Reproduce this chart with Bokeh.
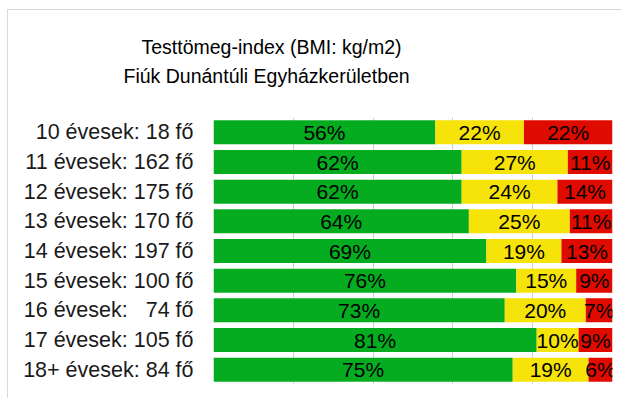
from bokeh.plotting import figure
from bokeh.models import ColumnDataSource, FactorRange, Title
from bokeh.embed import file_html
from bokeh.resources import INLINE

# ---- data ----
categories = ["10 évesek: 18 fő", "11 évesek: 162 fő", "12 évesek: 175 fő",
              "13 évesek: 170 fő", "14 évesek: 197 fő", "15 évesek: 100 fő",
              "16 évesek: \u00a0\u00a074 fő", "17 évesek: 105 fő", "18+ évesek: 84 fő"]
green = [55.6, 62.2, 62.2, 64.0, 68.4, 75.9, 73.0, 81.0, 75.0]
yellow = [22.2, 26.6, 24.0, 25.3, 18.8, 15.0, 20.3, 10.5, 19.0]
red = [22.2, 11.2, 13.8, 10.7, 12.8, 9.1, 6.7, 8.5, 6.0]
green_labels = ["56%", "62%", "62%", "64%", "69%", "76%", "73%", "81%", "75%"]
yellow_labels = ["22%", "27%", "24%", "25%", "19%", "15%", "20%", "10%", "19%"]
red_labels = ["22%", "11%", "14%", "11%", "13%", "9%", "7%", "9%", "6%"]
title_lines = ["Testtömeg-index (BMI: kg/m2)", "Fiúk Dunántúli Egyházkerületben"]

FONT = "Liberation Sans"
colors = ["#06AC20", "#F5E30A", "#E00B00"]

g_end = [g for g in green]
y_end = [g + y for g, y in zip(green, yellow)]
r_end = [g + y + r for g, y, r in zip(green, yellow, red)]

src = ColumnDataSource(dict(
    cat=categories, green=green, yellow=yellow, red=red,
    g0=[0] * len(green), g1=g_end, y1=y_end, r1=r_end,
    gc=[e / 2 for e in g_end],
    yc=[(a + b) / 2 for a, b in zip(g_end, y_end)],
    rc=[(a + b) / 2 for a, b in zip(y_end, r_end)],
    gl=green_labels, yl=yellow_labels, rl=red_labels,
))

W, H = 614, 389
ML, MR, MT, MB = 205, 10, 107, 15

p = figure(width=W, height=H, output_backend="svg", toolbar_location=None,
           y_range=FactorRange(*reversed(categories)), x_range=(0, 100),
           min_border_left=ML, min_border_right=MR, min_border_top=MT,
           min_border_bottom=MB, title=None)
p.outline_line_color = None
p.background_fill_color = "white"
p.border_fill_color = "white"
p.y_range.range_padding = 0
p.y_range.group_padding = 0
p.y_range.factor_padding = 0

p.hbar(y="cat", left="g0", right="g1", height=0.81, source=src,
       fill_color=colors[0], line_color=None)
p.hbar(y="cat", left="g1", right="y1", height=0.81, source=src,
       fill_color=colors[1], line_color=None)
p.hbar(y="cat", left="y1", right="r1", height=0.81, source=src,
       fill_color=colors[2], line_color=None)

for xcol, tcol in (("gc", "gl"), ("yc", "yl"), ("rc", "rl")):
    p.text(x=xcol, y="cat", text=tcol, source=src, text_align="center",
           text_baseline="middle", text_font_size="21px", text_color="#000000",
           text_font={"value": FONT})

p.xaxis.visible = False
p.xgrid.ticker = [0, 20, 40, 60, 80, 100]
p.xgrid.grid_line_color = "#D0D0D0"
p.xgrid.grid_line_width = 1
p.ygrid.grid_line_color = None

ax = p.yaxis[0]
ax.axis_line_color = None
ax.major_tick_line_color = None
ax.minor_tick_line_color = None
ax.major_tick_out = 0
ax.major_tick_in = 0
ax.major_label_standoff = 20
ax.major_label_text_font = FONT
ax.major_label_text_font_size = "21.5px"
ax.major_label_text_color = "#1A1A1A"

# spacer between the plot and the title, then the two title lines
p.add_layout(Title(text=" ", standoff=22, text_font_size="1px"), "above")
p.add_layout(Title(text=title_lines[1], align="left", offset=-90, standoff=11,
                   text_font=FONT, text_font_size="19.5px",
                   text_font_style="normal", text_color="#000000"), "above")
p.add_layout(Title(text=title_lines[0], align="left", offset=-72, standoff=0,
                   text_font=FONT, text_font_size="19.5px",
                   text_font_style="normal", text_color="#000000"), "above")

p.styles = {"margin-left": "7px", "margin-top": "9px",
            "border-left": "1px solid #D9D9D9", "border-top": "1px solid #D9D9D9"}

open("out.html", "w").write(file_html(p, INLINE))
